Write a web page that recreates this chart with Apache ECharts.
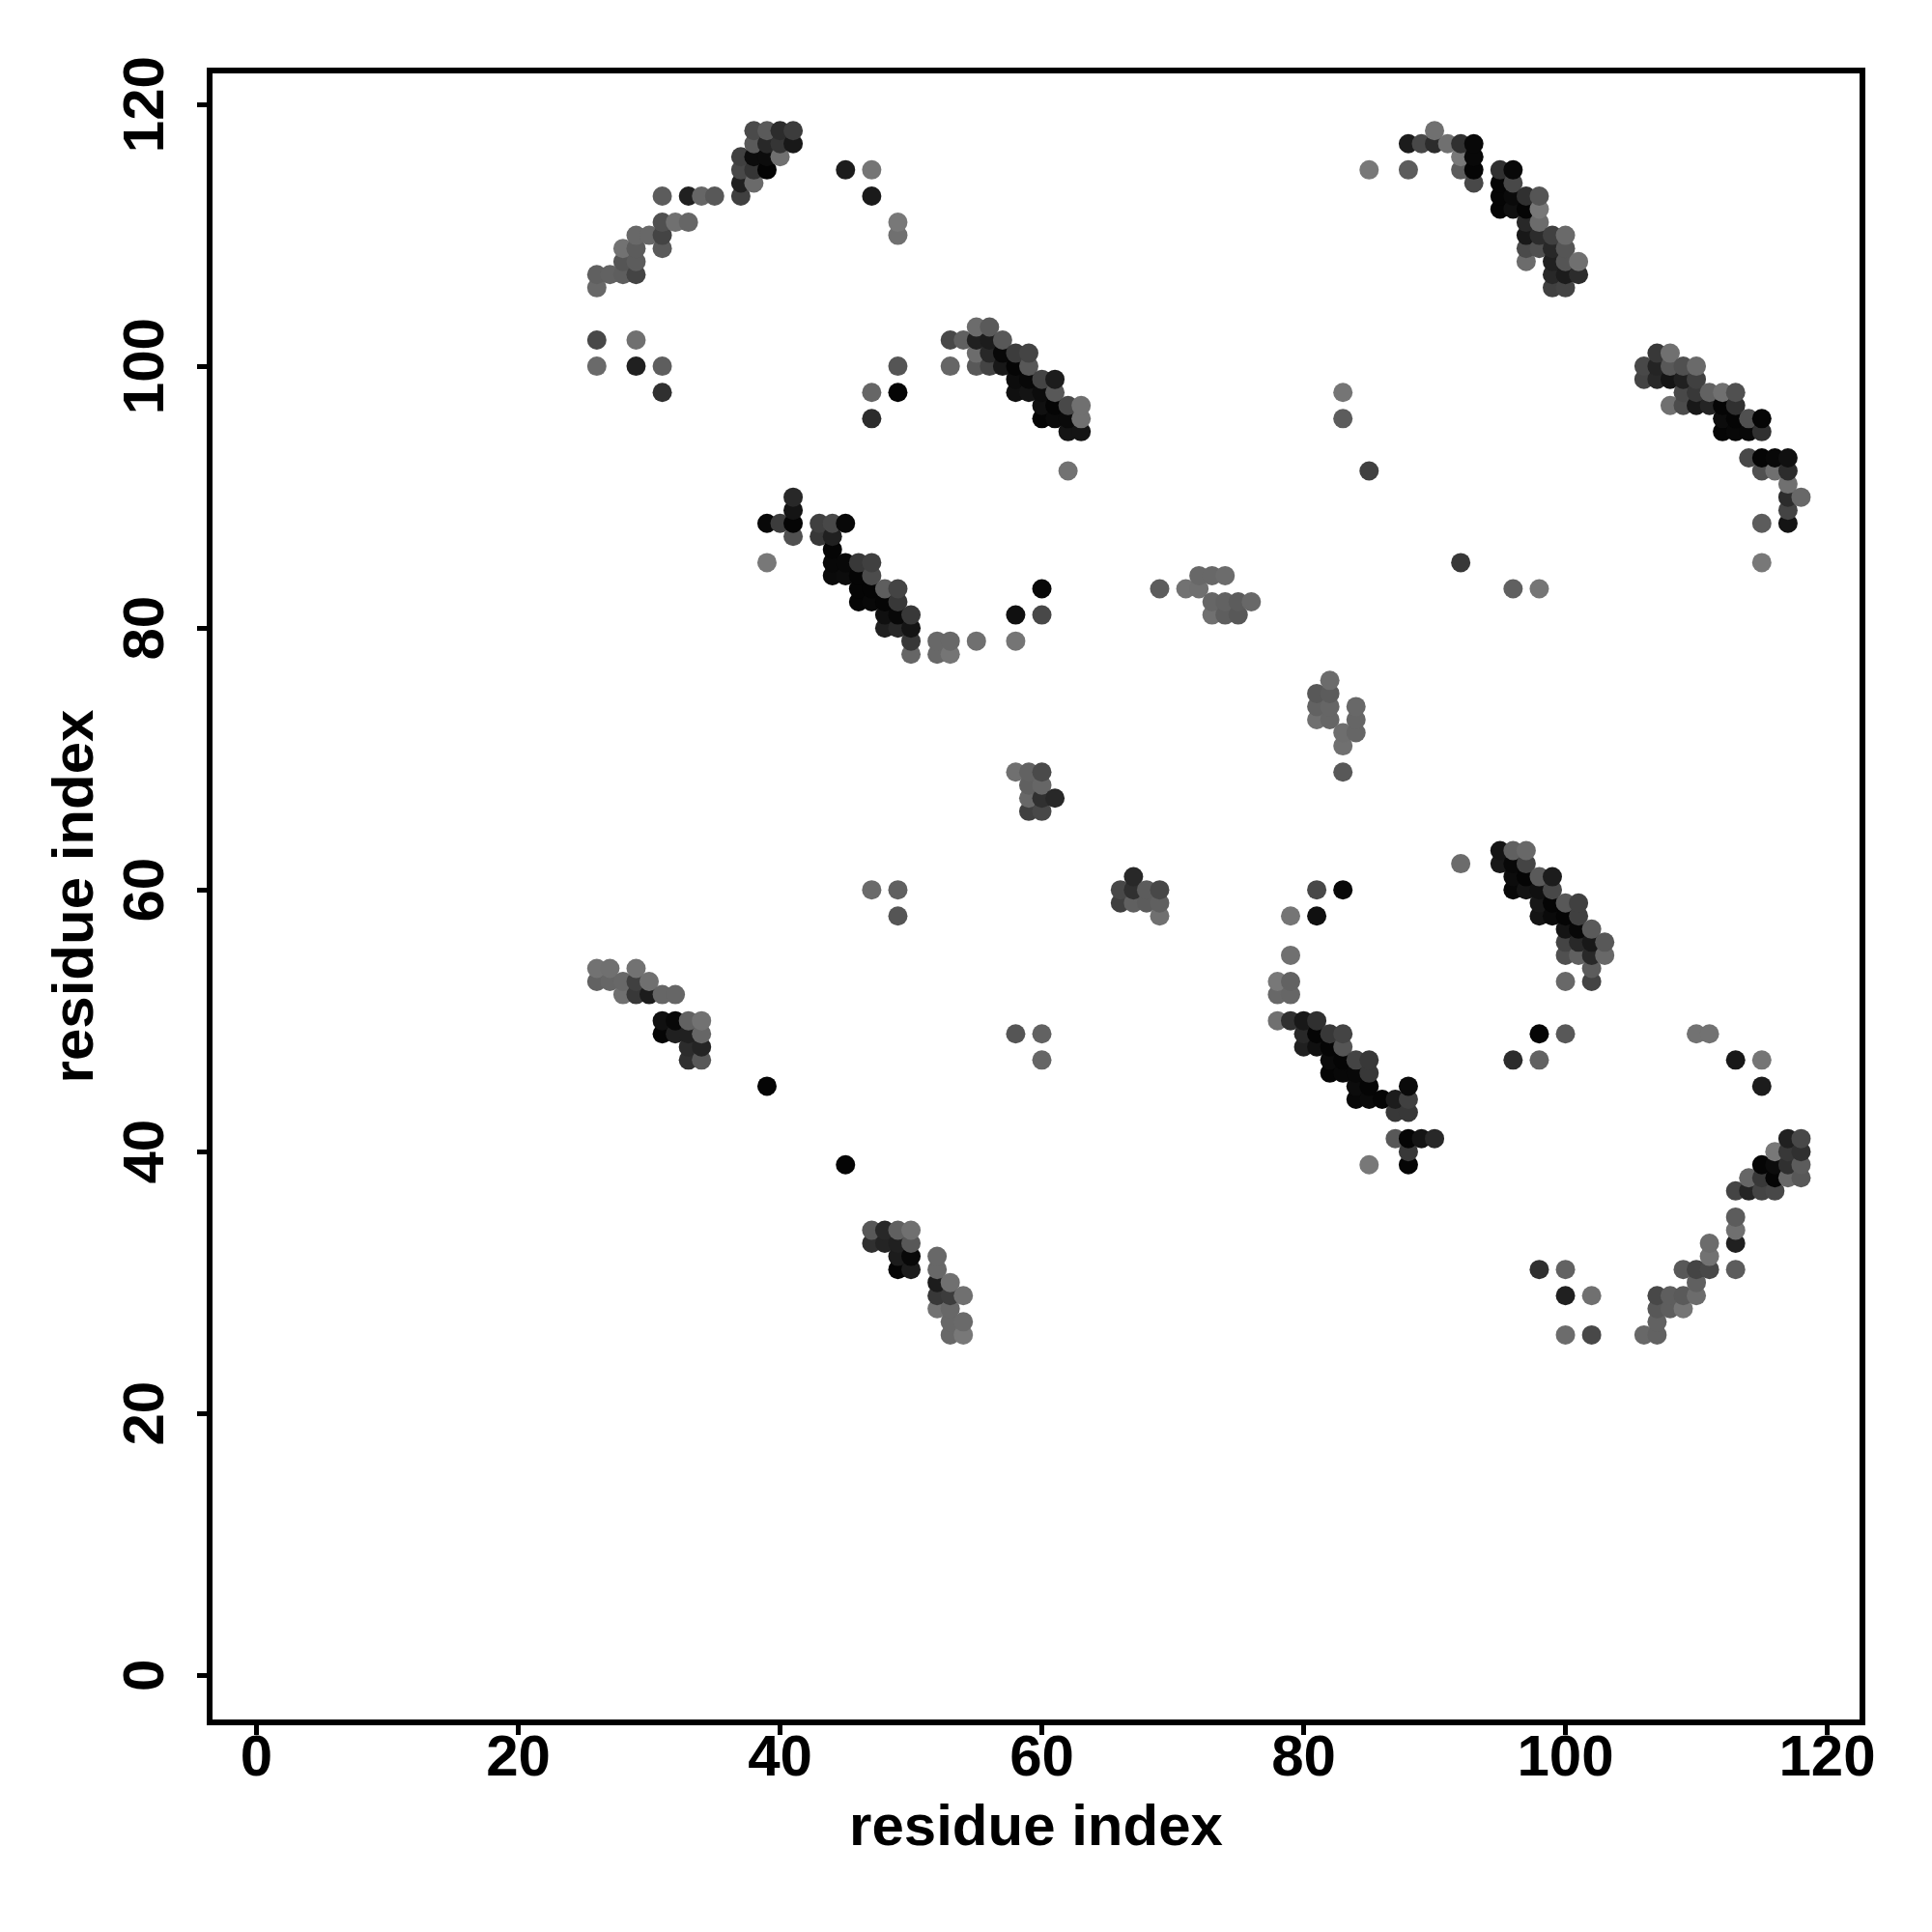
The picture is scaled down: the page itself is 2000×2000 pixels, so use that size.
<!DOCTYPE html>
<html><head><meta charset="utf-8">
<style>html,body{margin:0;padding:0;background:#fff}#c{width:2000px;height:2000px}</style>
<script src="https://cdn.jsdelivr.net/npm/echarts@6/dist/echarts.min.js"></script>
</head><body><div id="c"></div>
<script>
const tickLabels = [0, 20, 40, 60, 80, 100, 120];
const axisTitle = "residue index";
const rowY = [118,117,116,115,114,113,112,111,110,109,108,107,106,103,102,101,100,99,98,97,96,95,93,92,91,90,89,88,87,86,85,84,83,82,81,80,79,78,76,75,74,73,72,71,69,68,67,66,63,62,61,60,59,58,57,56,55,54,53,52,50,49,48,47,46,45,44,43,41,40,39,38,37,35,34,33,32,31,30,29,28,27,26];
const rowX = [
[38,39,40,41,90],
[38,39,40,41,88,89,90,91,92,93],
[37,38,39,40,92,93],
[37,38,39,45,47,85,88,92,93,95,96],
[37,38,93,95,96],
[31,33,34,35,37,47,95,96,97,98],
[95,96,97,98],
[31,32,33,49,97,98],
[29,30,31,49,97,98,99,100],
[28,29,31,97,98,99,100],
[28,29,97,99,100,101],
[26,27,28,29,99,100,101],
[26,99,100],
[55,56],
[26,29,53,54,55,56,57],
[55,56,57,58,59,107,108],
[26,29,31,49,53,55,56,57,58,59,106,107,108,109,110],
[58,59,60,61,106,107,108,109,110],
[31,47,49,58,59,60,61,83,109,110,111,112,113],
[60,61,62,63,108,109,110,111,112,113],
[47,60,61,62,63,83,112,113,114,115],
[62,63,112,113,114,115],
[114,115,116,117],
[62,85,115,116,117],
[117],
[41,117,118],
[41,117],
[39,40,41,43,44,45,115,117],
[41,43,44],
[44],
[39,44,45,46,47,92,115],
[44,45,46,47,72,73,74],
[46,47,48,49,60,69,71,72,96,98],
[46,47,48,49,73,74,75,76],
[48,49,50,58,60,73,74,75],
[48,49,50],
[50,52,53,55,58],
[50,52,53],
[82],
[81,82],
[81,82,84],
[81,82,84],
[83,84],
[83],
[58,59,60,83],
[59,60],
[59,60,61],
[59,60],
[95,96,97],
[92,95,96,97],
[67,96,97,98,99],
[47,49,66,67,68,69,81,83,96,97,98,99],
[66,67,68,69,98,99,100,101],
[49,69,79,81,98,99,100,101],
[100,101,102],
[100,101,102,103],
[79,100,101,102,103],
[26,27,29,102],
[26,27,28,29,30,78,79,100,102],
[28,29,30,31,32,78,79],
[31,32,33,34,78,79,80,81],
[31,32,33,34,58,60,80,81,82,83,98,100,110,111],
[33,34,80,81,82,83],
[33,34,60,82,83,84,85,96,98,113,115],
[82,83,84,85],
[39,84,85,88,115],
[84,85,86,87,88],
[87,88],
[87,88,89,90,117,118],
[88,116,117,118],
[45,85,88,115,116,117,118],
[114,115,116,117,118],
[113,114,115,116],
[113],
[47,48,49,50,113],
[47,48,49,50,111,113],
[49,50,52,111],
[49,50,52,98,100,109,110,111,113],
[52,53,110],
[52,53,54,100,102,107,108,109,110],
[52,53,107,108,109],
[53,54,107],
[53,54,100,102,106,107]
];
const rowShade = [
[0x4a,0x5a,0x2c,0x3c,0x70],
[0x5a,0x28,0x35,0x18,0x1c,0x48,0x2c,0x70,0x30,0x08],
[0x40,0x0c,0x0c,0x70,0x78,0x08],
[0x48,0x35,0x04,0x1c,0x75,0x78,0x5c,0x5c,0x05,0x30,0x08],
[0x20,0x6a,0x48,0x05,0x48],
[0x5c,0x20,0x66,0x58,0x40,0x1a,0x05,0x0a,0x30,0x55],
[0x05,0x10,0x05,0x78],
[0x50,0x70,0x66,0x78,0x28,0x6c],
[0x68,0x68,0x44,0x70,0x18,0x2c,0x40,0x6a],
[0x72,0x5c,0x5a,0x4a,0x50,0x28,0x55],
[0x55,0x5c,0x6c,0x20,0x55,0x70],
[0x60,0x62,0x5e,0x44,0x28,0x1c,0x2c],
[0x68,0x40,0x44],
[0x6c,0x5a],
[0x48,0x70,0x48,0x60,0x20,0x1c,0x58],
[0x6c,0x28,0x08,0x3c,0x44,0x38,0x70],
[0x6a,0x20,0x5e,0x55,0x66,0x58,0x44,0x18,0x05,0x58,0x48,0x24,0x58,0x50,0x6a],
[0x0c,0x08,0x44,0x1c,0x44,0x28,0x14,0x20,0x40],
[0x30,0x66,0x05,0x10,0x14,0x0c,0x58,0x75,0x48,0x38,0x62,0x70,0x50],
[0x10,0x05,0x48,0x70,0x70,0x4c,0x18,0x24,0x05,0x30],
[0x2c,0x05,0x0a,0x0a,0x70,0x5c,0x0c,0x05,0x50,0x05],
[0x14,0x14,0x05,0x08,0x08,0x30],
[0x48,0x05,0x08,0x10],
[0x72,0x40,0x50,0x70,0x2c],
[0x70],
[0x28,0x2c,0x68],
[0x14,0x44],
[0x08,0x3c,0x05,0x40,0x48,0x08,0x5c,0x14],
[0x50,0x38,0x20],
[0x05],
[0x78,0x08,0x08,0x38,0x40,0x38,0x78],
[0x0a,0x0c,0x05,0x4c,0x68,0x68,0x6c],
[0x05,0x05,0x5e,0x44,0x08,0x5c,0x72,0x70,0x60,0x75],
[0x05,0x08,0x05,0x38,0x66,0x62,0x5c,0x68],
[0x10,0x08,0x38,0x10,0x48,0x70,0x5e,0x58],
[0x20,0x28,0x14],
[0x38,0x68,0x68,0x70,0x75],
[0x66,0x68,0x75],
[0x6c],
[0x58,0x5c],
[0x62,0x66,0x68],
[0x70,0x66,0x66],
[0x6e,0x66],
[0x70],
[0x70,0x62,0x4a,0x58],
[0x60,0x66],
[0x68,0x30,0x28],
[0x40,0x48],
[0x14,0x60,0x68],
[0x6c,0x18,0x08,0x44],
[0x28,0x0c,0x05,0x5a,0x1c],
[0x6a,0x60,0x48,0x30,0x5c,0x48,0x48,0x08,0x08,0x14,0x10,0x48],
[0x40,0x60,0x5c,0x60,0x18,0x05,0x58,0x40],
[0x55,0x70,0x75,0x10,0x14,0x0a,0x05,0x40],
[0x14,0x08,0x5a],
[0x44,0x28,0x18,0x58],
[0x70,0x50,0x60,0x28,0x68],
[0x72,0x70,0x72,0x5c],
[0x62,0x66,0x68,0x40,0x70,0x78,0x62,0x68,0x44],
[0x70,0x38,0x1c,0x66,0x66,0x68,0x66],
[0x10,0x08,0x62,0x72,0x70,0x30,0x18,0x30],
[0x05,0x20,0x20,0x66,0x55,0x62,0x28,0x05,0x38,0x44,0x05,0x58,0x72,0x72],
[0x2c,0x24,0x20,0x10,0x05,0x55],
[0x30,0x58,0x66,0x0a,0x05,0x44,0x38,0x2c,0x62,0x18,0x75],
[0x05,0x08,0x08,0x38],
[0x05,0x0c,0x05,0x0a,0x1c],
[0x08,0x0a,0x05,0x1c,0x40],
[0x38,0x38],
[0x58,0x05,0x14,0x28,0x20,0x48],
[0x38,0x78,0x38,0x30],
[0x05,0x78,0x05,0x05,0x0c,0x30,0x5c],
[0x66,0x38,0x05,0x68,0x58],
[0x44,0x24,0x44,0x48],
[0x5c],
[0x58,0x28,0x60,0x70,0x70],
[0x30,0x24,0x20,0x58,0x6c,0x20],
[0x1c,0x08,0x68,0x72],
[0x05,0x1c,0x68,0x30,0x62,0x58,0x44,0x48,0x5c],
[0x1c,0x70,0x60],
[0x38,0x3c,0x70,0x20,0x70,0x48,0x5e,0x5a,0x6c],
[0x72,0x68,0x58,0x5e,0x75],
[0x68,0x6a,0x62],
[0x68,0x78,0x6c,0x48,0x68,0x62]
];

const points = [];
rowY.forEach((y, r) => rowX[r].forEach((x, k) => points.push([x, y, rowShade[r][k]])));
points.sort((a, b) => a[0] - b[0] || a[1] - b[1]);

const font = {fontFamily: '"Liberation Sans"', fontWeight: 'bold', fontSize: 60, color: '#000'};
const chart = echarts.init(document.getElementById('c'), null, {renderer: 'canvas'});
function axis(extra) {
  return Object.assign({
    type: 'value',
    name: axisTitle,
    nameLocation: 'middle',
    nameMoveOverlap: false,
    nameTextStyle: font,
    splitLine: {show: false},
    axisLine: {show: false, onZero: false},
    axisTick: {show: true, length: 13, inside: false, customValues: tickLabels, lineStyle: {color: '#000', width: 5}},
  }, extra);
}
chart.setOption({
  animation: false,
  backgroundColor: '#fff',
  grid: {show: true, left: 217, top: 73, width: 1711, height: 1710, borderColor: '#000', borderWidth: 6, backgroundColor: '#fff'},
  xAxis: axis({
    min: -3.58, max: 122.69, nameGap: 80,
    axisLabel: Object.assign({customValues: tickLabels, margin: 8}, font)
  }),
  yAxis: axis({
    min: -3.6, max: 122.59, nameGap: 108,
    axisLabel: Object.assign({customValues: tickLabels, margin: 35, rotate: 90}, font)
  }),
  series: [{
    type: 'scatter',
    symbol: 'circle',
    symbolSize: 20,
    silent: true,
    data: points,
    itemStyle: {opacity: 1, color: p => { const s = p.value[2]; return `rgb(${s},${s},${s})`; }}
  }]
});
</script></body></html>
